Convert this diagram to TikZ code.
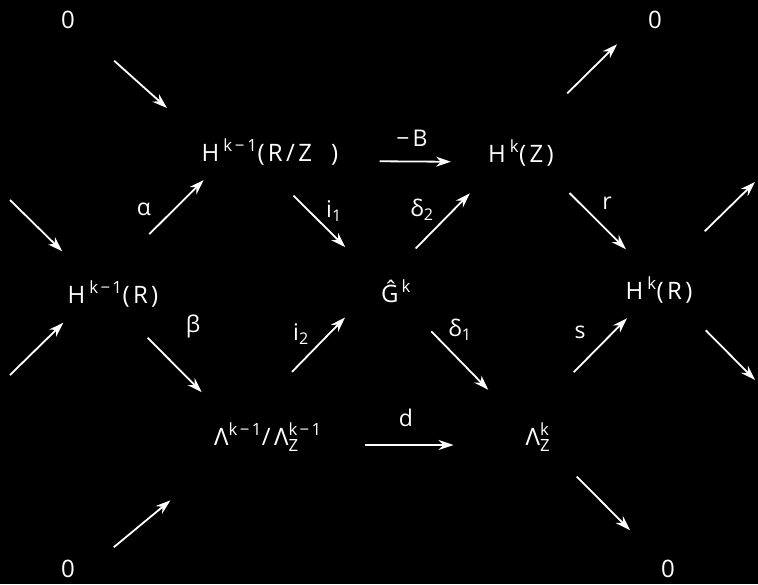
\documentclass[tikz,border=0pt]{standalone}
\usepackage{amsmath}
\usepackage{fontspec}
\setmainfont{Open Sans}[LetterSpace=14]
\usetikzlibrary{arrows.meta}

\begin{document}
\begin{tikzpicture}[x=1pt, y=-1pt,
  obj/.style={inner sep=1pt, anchor=base, text=white, font=\fontsize{24}{29}\selectfont},
  lbl/.style={inner sep=1pt, text=white, font=\fontsize{23}{27}\selectfont},
  map/.style={draw=white, line width=1.8pt, -{Stealth[length=15pt,width=10pt]}}]

\fill[black] (0,0) rectangle (758,584);
\useasboundingbox (0,0) rectangle (758,584);

% objects
\node[obj] (zTL) at (68,28) {0};
\node[obj] (zTR) at (655,28) {0};
\node[obj] (zBL) at (68,577) {0};
\node[obj] (zBR) at (668,577) {0};
\node[obj] (hRZ) at (270,161) {H\,$^{\text{k\,−\,1}}$(R/Z\ \ )};
\node[obj] (hZ) at (521,162) {H\,$^{\text{k}}$(Z)};
\node[obj] (hRm) at (113,303) {H\,$^{\text{k−1}}$(R)};
\node[obj] (G) at (396,302) {Ĝ$^{\,\text{k}}$};
\node[obj] (hRk) at (659,299) {H\,$^{\text{k}}$(R)};
\node[obj] (lam) at (268,445) {Λ$^{\text{k−1}}$/Λ$^{\text{k−1}}_{\text{Z}}$};
\node[obj] (lamZ) at (538,445) {Λ$^{\text{k}}_{\text{Z}}$};

% labels
\node[lbl] (la) at (144,209) {α};
\node[lbl] (lb) at (193,326) {β};
\node[lbl] (li1) at (334,211) {i$_{\text{1}}$};
\node[lbl] (ld2) at (422,210) {δ$_{\text{2}}$};
\node[lbl] (li2) at (301,334) {i$_{\text{2}}$};
\node[lbl] (ld1) at (460,330) {δ$_{\text{1}}$};
\node[lbl] (lr) at (607,203) {r};
\node[lbl] (ls) at (580,332) {s};
\node[lbl] (lB) at (412,138) {−B};
\node[lbl] (ld) at (406,418) {d};

% loose ends
\coordinate (inA) at (10,200);
\coordinate (inB) at (10,375);
\coordinate (outA) at (755,182);
\coordinate (outB) at (755,380);

% maps
\draw[map, shorten <=62pt, shorten >=45pt] (zTL.center) -- (hRZ.north west);
\draw[map, shorten <=65pt, shorten >=20pt] (hRm.125) -- (hRZ.195);
\draw[map, shorten <=42pt, shorten >=42pt] (hRm.290) -- (lam.157);
\draw[map, shorten <=42pt, shorten >=49pt] (hRZ.246) -- (G.150);
\draw[map, shorten <=70pt, shorten >=50pt] (lam.148) -- (G.150);
\draw[map, shorten <=42pt, shorten >=37pt] (G.128) -- (hZ.209);
\draw[map, shorten <=39pt, shorten >=52pt] (G.303) -- (lamZ.142);
\draw[map, shorten <=40pt, shorten >=36pt] (hRZ.base east) -- (hZ.base west);
\draw[map, shorten <=42pt, shorten >=71pt] (lam.base east) -- (lamZ.base west);
\draw[map, shorten <=65pt, shorten >=42pt] (hZ.north) -- (zTR.150);
\draw[map, shorten <=37pt, shorten >=38pt] (hZ.328) -- (hRk.114);
\draw[map, shorten <=70pt, shorten >=20pt] (lamZ.north west) -- (hRk.218);
\draw[map, shorten <=49pt, shorten >=74pt] (zBL.south east) -- (lam.201);
\draw[map, shorten <=55pt, shorten >=54pt] (lamZ.center) -- (zBR.center);
\draw[map, shorten >=41pt] (inA) -- (hRm.147);
\draw[map, shorten >=21pt] (inB) -- (hRm.202);
\draw[map, shorten <=64pt] (hRk.north) -- (outA);
\draw[map, shorten <=37pt] (hRk.326) -- (outB);

\end{tikzpicture}
\end{document}
